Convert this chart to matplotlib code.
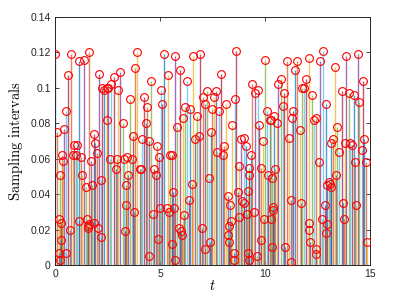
import matplotlib
matplotlib.use("Agg")
import matplotlib.pyplot as plt

# sampling instants and the interval read at each one
t = [
    0.00, 0.11, 0.17, 0.17, 0.24, 0.25, 0.27, 0.29, 0.33, 0.40, 0.43, 0.51, 0.52, 0.62, 0.71, 0.75,
    0.84, 0.90, 1.00, 1.03, 1.13, 1.16, 1.25, 1.30, 1.38, 1.48, 1.54, 1.56, 1.59, 1.60, 1.63, 1.73,
    1.76, 1.84, 1.86, 1.92, 2.00, 2.06, 2.08, 2.17, 2.19, 2.25, 2.33, 2.46, 2.48,
    2.54, 2.62, 2.67, 2.79, 2.89, 2.95, 3.02, 3.11, 3.22, 3.29, 3.31, 3.37, 3.40, 3.43, 3.49, 3.57,
    3.65, 3.71, 3.78, 3.81, 3.92, 4.03, 4.10, 4.16, 4.24, 4.32, 4.40, 4.48, 4.49, 4.57, 4.67, 4.73,
    4.79, 4.87, 4.92, 4.95, 5.00, 5.03, 5.11,
    5.20, 5.32, 5.38, 5.44, 5.48, 5.56, 5.57, 5.63, 5.67, 5.70, 5.73, 5.83, 5.92, 5.95, 6.02, 6.05,
    6.08, 6.16, 6.21, 6.30, 6.40, 6.43, 6.51, 6.56, 6.67, 6.75, 6.84, 6.90, 7.02, 7.03, 7.13, 7.14,
    7.25, 7.35, 7.38, 7.41, 7.48, 7.57, 7.65, 7.73, 7.80,
    7.90, 8.00, 8.06, 8.14, 8.22, 8.25, 8.29, 8.30, 8.32, 8.38, 8.44, 8.51, 8.54, 8.56, 8.62, 8.73,
    8.74, 8.76, 8.86, 8.92, 8.98, 9.01, 9.08, 9.14, 9.17, 9.20, 9.21, 9.22, 9.24, 9.33, 9.40, 9.46,
    9.52, 9.60, 9.65, 9.71, 9.80, 9.81, 9.89, 9.95, 10.00, 10.08, 10.16, 10.22, 10.28, 10.30, 10.32,
    10.34, 10.36, 10.37, 10.40, 10.48, 10.56, 10.62, 10.75, 10.84, 10.90, 10.94, 11.03, 11.13, 11.22,
    11.25, 11.29, 11.35, 11.43, 11.54, 11.67, 11.69, 11.76, 11.86, 11.95, 12.08, 12.10, 12.11, 12.12,
    12.24, 12.33, 12.40, 12.42, 12.43, 12.56, 12.62, 12.71, 12.74, 12.87, 12.90, 12.91, 12.94, 12.97,
    13.03, 13.08, 13.13, 13.16, 13.22, 13.32, 13.38, 13.44, 13.51, 13.64, 13.73, 13.76, 13.79, 13.86,
    13.98, 14.05, 14.14, 14.24, 14.30, 14.33, 14.40, 14.49, 14.59, 14.65, 14.71, 14.78, 14.84,
]
h = [
    0.119, 0.075, 0.026, 0.007, 0.051, 0.003, 0.024, 0.014, 0.062, 0.059, 0.077, 0.007, 0.087, 0.107, 0.020, 0.119,
    0.062, 0.068, 0.062, 0.068, 0.025, 0.115, 0.061, 0.051, 0.116, 0.044, 0.026, 0.022, 0.021, 0.120, 0.023, 0.059,
    0.045, 0.024, 0.074, 0.069, 0.063, 0.021, 0.108, 0.016, 0.048, 0.100, 0.099, 0.100, 0.082,
    0.100, 0.060, 0.102, 0.106, 0.054, 0.060, 0.099, 0.109, 0.080, 0.060, 0.019, 0.034, 0.045, 0.061, 0.051, 0.094,
    0.060, 0.073, 0.030, 0.111, 0.120, 0.054, 0.054, 0.071, 0.095, 0.080, 0.089, 0.005, 0.070, 0.104, 0.029, 0.054,
    0.051, 0.067, 0.015, 0.061, 0.032, 0.099, 0.091,
    0.119, 0.032, 0.107, 0.030, 0.062, 0.012, 0.062, 0.041, 0.032, 0.003, 0.118, 0.078, 0.021, 0.110, 0.019, 0.017,
    0.083, 0.028, 0.089, 0.104, 0.037, 0.088, 0.046, 0.118, 0.071, 0.084, 0.073, 0.119, 0.021, 0.095, 0.009, 0.091,
    0.098, 0.049, 0.013, 0.075, 0.088, 0.095, 0.098, 0.064, 0.087,
    0.108, 0.062, 0.067, 0.091, 0.039, 0.017, 0.022, 0.013, 0.034, 0.025, 0.079, 0.007, 0.003, 0.094, 0.121, 0.041,
    0.027, 0.056, 0.071, 0.036, 0.072, 0.035, 0.067, 0.029, 0.042, 0.007, 0.055, 0.003, 0.051, 0.062, 0.102, 0.030,
    0.097, 0.005, 0.099, 0.079, 0.014, 0.055, 0.070, 0.026, 0.116, 0.087, 0.051, 0.082, 0.026, 0.082, 0.010,
    0.049, 0.033, 0.031, 0.084, 0.054, 0.080, 0.102, 0.105, 0.090, 0.097, 0.010, 0.115, 0.072, 0.037,
    0.002, 0.083, 0.087, 0.110, 0.115, 0.076, 0.035, 0.100, 0.100, 0.105, 0.024, 0.020, 0.117, 0.013,
    0.096, 0.082, 0.009, 0.006, 0.083, 0.058, 0.115, 0.026, 0.121, 0.034, 0.091, 0.018, 0.023, 0.045,
    0.047, 0.046, 0.044, 0.069, 0.071, 0.112, 0.051, 0.078, 0.064, 0.098, 0.035, 0.026, 0.069, 0.118,
    0.097, 0.069, 0.068, 0.096, 0.058, 0.034, 0.119, 0.092, 0.065, 0.104, 0.071, 0.058, 0.013,
]

x_ticks = [0, 5, 10, 15]
y_ticks = [0, 0.02, 0.04, 0.06, 0.08, 0.1, 0.12, 0.14]
y_tick_labels = ["0", "0.02", "0.04", "0.06", "0.08", "0.1", "0.12", "0.14"]

# MATLAB default colour order, cycled per stem
stem_colors = ["#0072BD", "#D95319", "#EDB120", "#7E2F8E", "#77AC30", "#4DBEEE", "#A2142F"]

plt.rcParams["mathtext.fontset"] = "cm"
plt.rcParams["font.family"] = ["Liberation Sans", "DejaVu Sans"]

fig = plt.figure(figsize=(4.09, 3.03), dpi=100)
fig.patch.set_facecolor("white")
ax = fig.add_axes([0.1345, 0.125, 0.7705, 0.819])

for i, (ti, hi) in enumerate(zip(t, h)):
    c = stem_colors[i % len(stem_colors)]
    ax.plot([ti, ti], [0, hi], color=c, lw=1.0, alpha=0.7, solid_capstyle="butt", zorder=2)
    ax.plot([ti], [hi], "o", mfc="none", mec="#FF0000", ms=5.6, mew=0.8, zorder=3)

ax.set_xlim(0, 15)
ax.set_ylim(0, 0.14)
ax.set_xticks(x_ticks)
ax.set_yticks(y_ticks)
ax.set_yticklabels(y_tick_labels)
ax.tick_params(direction="in", length=3, width=0.6, labelsize=7.5, colors="#262626",
               top=True, right=True, pad=3)
for s in ax.spines.values():
    s.set_color("#262626")
    s.set_linewidth(0.7)

ax.set_xlabel("$t$", fontsize=10.5, labelpad=0)
ax.set_ylabel(r"$\mathrm{Sampling\ intervals}$", fontsize=10.5, labelpad=4)

fig.savefig("out.png", dpi=100)
